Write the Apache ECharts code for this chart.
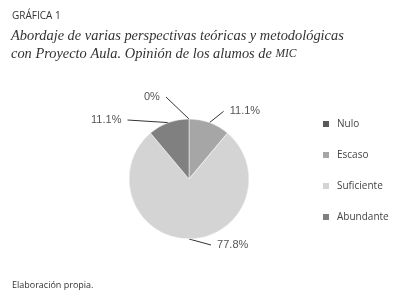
<!DOCTYPE html>
<html>
<head>
<meta charset="utf-8">
<script src="https://cdn.jsdelivr.net/npm/echarts@6/dist/echarts.min.js"></script>
<style>
  html, body { margin: 0; padding: 0; background: #fff; }
  #chart { width: 401px; height: 300px; }
</style>
</head>
<body>
<div id="chart"></div>
<script>
const categories = ['Nulo', 'Escaso', 'Suficiente', 'Abundante'];
const percents = [0, 11.1, 77.8, 11.1];
const colors = ['#595959', '#a6a6a6', '#d4d4d4', '#808080'];

// nudges so the labels sit where the original puts them (same order as categories)
const labelShift = [[-18, -10], [5, 0], [17, -6], [-20, 0]];

const chart = echarts.init(document.getElementById('chart'));
chart.setOption({
  animation: false,
  title: [
    {
      text: 'GRÁFICA 1',
      left: 7, top: 6,
      textStyle: { fontFamily: 'Open Sans', fontSize: 10, fontWeight: 'normal', color: '#333' }
    },
    {
      text: 'Abordaje de varias perspectivas teóricas y metodológicas\ncon Proyecto Aula. Opinión de los alumos de {sc|MIC}',
      left: 6, top: 22,
      textStyle: {
        fontFamily: 'Liberation Serif', fontSize: 14.4, fontStyle: 'italic', fontWeight: 'normal',
        color: '#333', lineHeight: 18,
        rich: { sc: { fontFamily: 'Liberation Serif', fontSize: 11.5, fontStyle: 'italic', color: '#333' } }
      }
    },
    {
      text: 'Elaboración propia.',
      left: 7, top: 276,
      textStyle: { fontFamily: 'Open Sans', fontSize: 9, fontWeight: 'normal', color: '#333' }
    }
  ],
  legend: {
    orient: 'vertical',
    left: 316, top: 114,
    itemWidth: 8, itemHeight: 8,
    itemGap: 21,
    icon: 'rect',
    data: categories,
    textStyle: { fontFamily: 'Open Sans', fontSize: 10, color: '#444', padding: [0, 0, 0, 2] }
  },
  series: [{
    type: 'pie',
    center: [189, 179],
    radius: 60,
    startAngle: 90,
    clockwise: true,
    avoidLabelOverlap: true,
    color: colors,
    itemStyle: { borderColor: '#fff', borderWidth: 0.5 },
    label: {
      formatter: '  {c}%  ',
      fontFamily: 'Arial',
      fontSize: 11,
      color: '#555'
    },
    labelLine: { length: 12, length2: 0, lineStyle: { color: '#333', width: 1 } },
    labelLayout: function (p) {
      const s = labelShift[p.dataIndex];
      return {
        x: p.labelRect.x + s[0],
        y: p.labelRect.y + s[1],
        align: 'left',
        verticalAlign: 'top'
      };
    },
    data: categories.map((name, i) => ({ name, value: percents[i] }))
  }]
});
</script>
</body>
</html>
